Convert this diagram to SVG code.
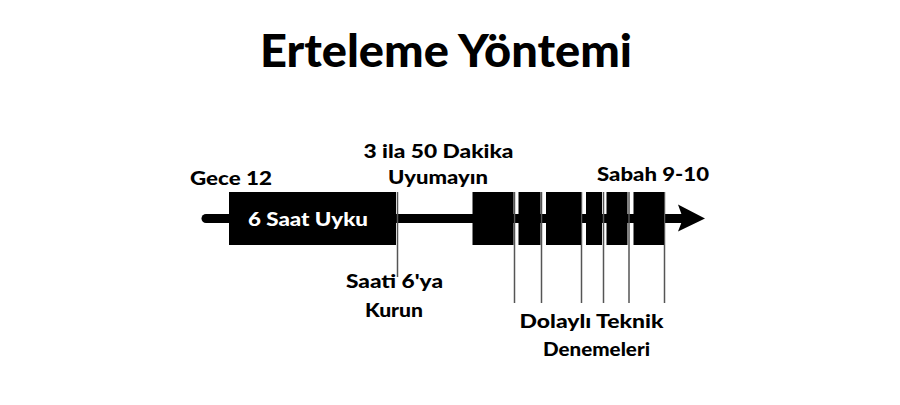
<svg xmlns="http://www.w3.org/2000/svg" width="900" height="405" viewBox="0 0 900 405">
<style>
text{font-family:Lato,"Noto Sans","Liberation Sans",sans-serif;font-weight:900;fill:#000;}
.lbl{font-size:19.5px;}
.title{font-size:46px;}
.blk{fill:#000;}
.tick{stroke:#555;stroke-width:1.5;fill:none;}
</style>
<rect width="900" height="405" fill="#fff"/>
<text class="title" x="260" y="66.5" textLength="372" lengthAdjust="spacingAndGlyphs">Erteleme Yöntemi</text>
<g id="connectors">
<line x1="206" y1="218.5" x2="684" y2="218.5" stroke="#000" stroke-width="9" stroke-linecap="round"/>
<polygon points="678,204.5 705,218.5 678,231.5 683,218.5" fill="#000"/>
<line class="tick" x1="397.5" y1="192" x2="397.5" y2="277"/>
<line class="tick" x1="514.5" y1="192" x2="514.5" y2="303"/>
<line class="tick" x1="541.5" y1="192" x2="541.5" y2="303"/>
<line class="tick" x1="581.5" y1="192" x2="581.5" y2="303"/>
<line class="tick" x1="603.5" y1="192" x2="603.5" y2="303"/>
<line class="tick" x1="629" y1="192" x2="629" y2="303"/>
<line class="tick" x1="664.5" y1="192" x2="664.5" y2="303"/>
</g>
<g id="sleep">
<rect class="blk" x="229" y="192" width="167" height="53"/>
<text class="lbl" x="248" y="226" textLength="120" lengthAdjust="spacingAndGlyphs" style="fill:#fff">6 Saat Uyku</text>
</g>
<g id="snooze-blocks">
<rect class="blk" x="472.5" y="192" width="41" height="53"/>
<rect class="blk" x="518.5" y="192" width="22" height="53"/>
<rect class="blk" x="546" y="192" width="35" height="53"/>
<rect class="blk" x="586" y="192" width="16" height="53"/>
<rect class="blk" x="606.5" y="192" width="21" height="53"/>
<rect class="blk" x="633.5" y="192" width="30.5" height="53"/>
</g>
<g id="label-gece">
<text class="lbl" x="190" y="185" textLength="82" lengthAdjust="spacingAndGlyphs">Gece 12</text>
</g>
<g id="label-dakika">
<text class="lbl" x="363.5" y="157.5" textLength="150" lengthAdjust="spacingAndGlyphs">3 ila 50 Dakika</text>
<text class="lbl" x="388" y="183.5" textLength="100" lengthAdjust="spacingAndGlyphs">Uyumayın</text>
</g>
<g id="label-sabah">
<text class="lbl" x="597" y="181" textLength="112" lengthAdjust="spacingAndGlyphs">Sabah 9-10</text>
</g>
<g id="label-saati">
<text class="lbl" x="346" y="288" textLength="97" lengthAdjust="spacingAndGlyphs">Saati 6'ya</text>
<text class="lbl" x="365" y="316.5" textLength="58" lengthAdjust="spacingAndGlyphs">Kurun</text>
</g>
<g id="label-dolayli">
<text class="lbl" x="519.5" y="328" textLength="144" lengthAdjust="spacingAndGlyphs">Dolaylı Teknik</text>
<text class="lbl" x="543" y="356" textLength="107" lengthAdjust="spacingAndGlyphs">Denemeleri</text>
</g>
</svg>
